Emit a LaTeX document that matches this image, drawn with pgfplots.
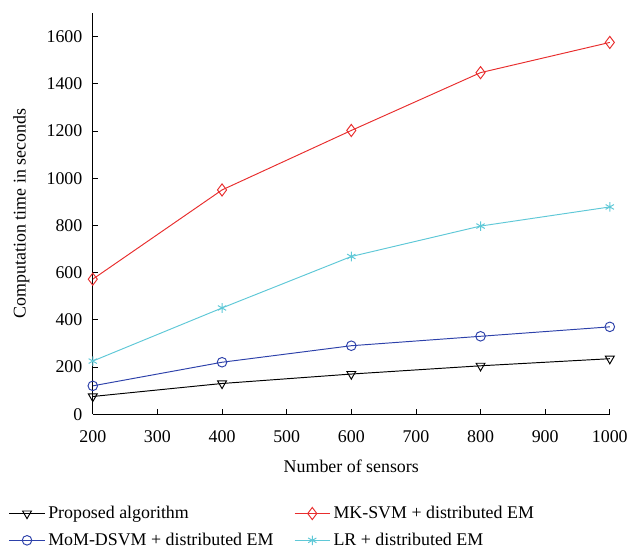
\documentclass[border=0pt]{standalone}
\usepackage{pgfplots}
\pgfplotsset{compat=1.18}
\usepackage{fontspec}
\setmainfont{Liberation Serif}
\definecolor{cred}{RGB}{232,45,45}
\definecolor{cblue}{RGB}{45,65,170}
\definecolor{ccyan}{RGB}{95,200,215}
\begin{document}
\begin{tikzpicture}
\begin{axis}[
  name=ax,
  scale only axis,
  width=323.75pt, height=251.25pt,
  xmin=200, xmax=1000, ymin=0, ymax=1700,
  axis lines=left,
  axis line style={-, line width=0.6pt},
  xtick={200,300,...,1000},
  ytick={0,200,...,1600},
  tick align=inside,
  tick style={black, line width=0.5pt},
  major tick length=3pt,
  /pgf/number format/assume math mode=true,
  /pgf/number format/1000 sep={},
  ticklabel style={font=\fontsize{11.2}{13}\selectfont},
  xticklabel style={yshift=-6.5pt},
  yticklabel style={xshift=-3pt},
  label style={font=\fontsize{11.2}{13}\selectfont},
  xlabel={Number of sensors},
  ylabel={Computation time in seconds},
  xlabel style={at={(axis description cs:0.5,-0.129)}, anchor=center},
  ylabel style={at={(axis description cs:-0.138,0.5)}, anchor=center},
  legend columns=2,
  transpose legend,
  legend cell align=left,
  legend image code/.code={
    \draw[mark repeat=2, mark phase=2] plot coordinates {(0pt,0pt) (11pt,0pt) (22pt,0pt)};
  },
  legend style={at={(-0.172,-0.2125)}, anchor=north west, draw=none, fill=none,
    font=\fontsize{11.2}{13}\selectfont,
    /tikz/every even column/.append style={column sep=11pt},
    row sep=3.5pt},
]
\addplot[black, line width=0.6pt, mark=triangle, mark size=3.2pt, mark options={rotate=180, solid}] coordinates {
(200,75) (400,130) (600,170) (800,205) (1000,235)};
\addlegendentry{Proposed algorithm}
\addplot[cblue, line width=0.6pt, mark=o, mark size=3pt] coordinates {
(200,120) (400,220) (600,290) (800,330) (1000,370)};
\addlegendentry{MoM-DSVM + distributed EM}
\addplot[cred, line width=0.6pt, mark=diamond, mark size=3.8pt] coordinates {
(200,572) (400,950) (600,1202) (800,1447) (1000,1575)};
\addlegendentry{MK-SVM + distributed EM}
\addplot[ccyan, line width=0.6pt, mark=asterisk, mark size=3pt] coordinates {
(200,225) (400,450) (600,668) (800,797) (1000,878)};
\addlegendentry{LR + distributed EM}
\end{axis}
\path ([shift={(-58.1pt,-82.5pt)}]ax.south west) rectangle ([shift={(13.75pt,8.1pt)}]ax.north east);
\end{tikzpicture}
\end{document}
